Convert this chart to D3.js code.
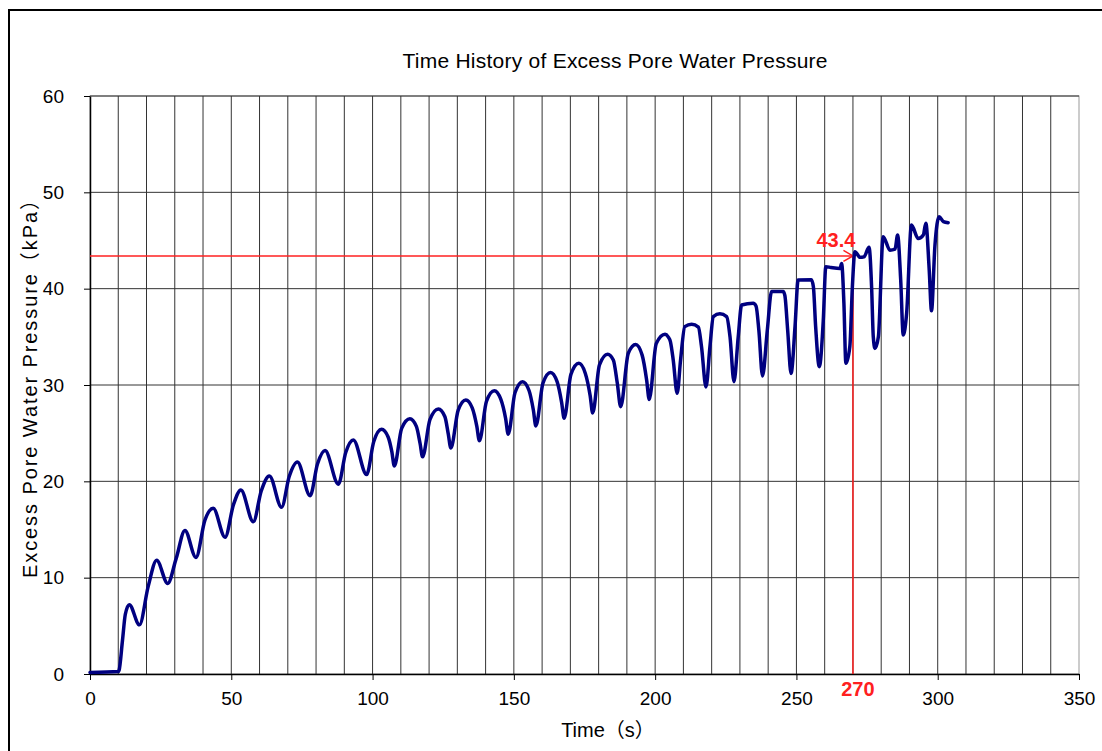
<!DOCTYPE html>
<html>
<head>
<meta charset="utf-8">
<script src="https://cdn.jsdelivr.net/npm/d3@7"></script>
<style>
  body { margin: 0; background: #fff; }
  svg text { font-family: "Liberation Sans", Arial, "Noto Sans CJK JP", sans-serif; }
</style>
</head>
<body>
<div id="chart"></div>
<script>
// time (s)
const timeS = [
    0, 10, 10.3, 11.5, 12.5, 13.9, 17.5, 20.6, 23.6, 27.5, 30.5, 33.6,
    37.5, 40.7, 43.6, 47.8, 50.8, 53.4, 57.8, 60.6, 63.5, 67.8, 70.5, 73.4,
    77.9, 80.5, 83.2, 87.9, 90.5, 93.2, 97.9, 100.4, 103.2, 105.5, 106.8,
    107.7, 110.3, 113.2, 115.5, 116.8, 117.7, 120.3, 123.3, 125.6, 126.8,
    127.7, 130.3, 133.0, 135.3, 136.9, 137.8, 140.3, 143.1, 145.4, 147.1,
    148.0, 150.4, 153.1, 155.4, 156.9, 157.8, 160.3, 163.0, 165.3, 166.9,
    167.8, 170.2, 173.0, 175.3, 177.0, 177.9, 180.3, 183.2, 185.2, 186.6,
    187.8, 190.5, 193.1, 195.4, 197.0, 197.9, 200.4, 203.5, 204.6, 205.4,
    206.4, 207.8, 209.0, 210.5, 212.9, 215.3, 216.4, 218.0, 219.4, 220.6,
    222.9, 225.3, 226.5, 227.9, 229.4, 230.6, 234.7, 235.7, 236.7, 238.0,
    239.7, 241.2, 245.3, 245.9, 246.9, 248.1, 249.5, 250.6, 255.3, 256.0,
    256.8, 258.1, 259.5, 260.4, 262.2, 265.4, 266.0, 266.8, 267.5, 268.9,
    269.8, 270.7, 272.5, 273.9, 275.7, 276.6, 277.2, 277.8, 279.0, 280.7,
    283.1, 284.9, 285.8, 286.9, 287.8, 289.0, 290.7, 293.1, 294.9, 295.8,
    297.0, 297.8, 299.0, 300.5, 302.0, 303.7
];
// excess pore water pressure (kPa)
const pressureKPa = [
    0.15, 0.25, 0.4, 3.5, 6.2, 7.2, 5.1, 9.1, 11.8, 9.4, 12.0, 14.9,
    12.1, 16.0, 17.2, 14.2, 17.6, 19.1, 15.8, 19.0, 20.55, 17.3, 20.5, 22.0,
    18.5, 21.8, 23.2, 19.7, 23.0, 24.3, 20.7, 24.1, 25.4, 24.6, 23.1,
    21.6, 25.5, 26.5, 25.7, 23.95, 22.55, 26.4, 27.5, 26.7, 24.9,
    23.45, 27.4, 28.45, 27.6, 25.7, 24.2, 28.3, 29.4, 28.5, 26.5,
    24.9, 29.2, 30.35, 29.4, 27.4, 25.75, 30.2, 31.3, 30.35, 28.2,
    26.55, 31.1, 32.25, 31.2, 28.9, 27.1, 32.1, 33.2, 32.6, 30.2,
    27.75, 33.3, 34.2, 33.1, 30.5, 28.5, 34.3, 35.26, 35.0, 34.5,
    32.6, 29.14, 32.6, 36.06, 36.3, 36.0, 34.0, 29.8, 34.0, 37.1,
    37.4, 37.1, 35.0, 30.35, 35.0, 38.3, 38.48, 38.2, 35.7, 30.94,
    35.7, 39.7, 39.7, 39.3, 35.7, 31.2, 36.05, 40.9, 40.93, 40.2,
    36.05, 31.9, 36.7, 42.28, 42.2, 42.1, 42.6, 38.5, 32.25, 34.0,
    40.2, 43.84, 43.25, 43.3, 44.3, 40.2, 35.0, 33.8, 35.0, 45.4,
    44.0, 44.1, 45.57, 40.9, 35.19, 37.45, 46.6, 45.2, 45.57, 46.78,
    41.9, 37.7, 44.4, 47.47, 46.96, 46.85
];

const xTicks = [0, 50, 100, 150, 200, 250, 300, 350];
const xGrid = d3.range(0, 351, 10);
const yTicks = [0, 10, 20, 30, 40, 50, 60];

// marked reading
const markTime = 270;
const markValue = 43.4;

const width = 1102, height = 751;
const svg = d3.select("#chart").append("svg")
    .attr("width", width)
    .attr("height", height);

// outer frame of the sheet
svg.append("rect")
    .attr("x", 9).attr("y", 10)
    .attr("width", 1200).attr("height", 800)
    .attr("fill", "none")
    .attr("stroke", "#000")
    .attr("stroke-width", 2);

const x = d3.scaleLinear().domain([0, 350]).range([90, 1079]);
const y = d3.scaleLinear().domain([0, 60]).range([674, 96]);

// plot border
svg.append("rect")
    .attr("x", x(0)).attr("y", y(60))
    .attr("width", x(350) - x(0)).attr("height", y(0) - y(60))
    .attr("fill", "none")
    .attr("stroke", "#999")
    .attr("stroke-width", 1);

// grid
svg.append("g").selectAll("line")
    .data(xGrid.filter(d => d > 0 && d < 350))
    .enter().append("line")
    .attr("x1", d => x(d)).attr("x2", d => x(d))
    .attr("y1", y(0)).attr("y2", y(60))
    .attr("stroke", "#333").attr("stroke-width", 1);

svg.append("g").selectAll("line")
    .data(yTicks.filter(d => d > 0))
    .enter().append("line")
    .attr("x1", x(0)).attr("x2", x(350))
    .attr("y1", d => y(d)).attr("y2", d => y(d))
    .attr("stroke", "#333").attr("stroke-width", 1);

// axes
const xAxis = svg.append("g")
    .attr("transform", "translate(0," + y(0) + ")")
    .call(d3.axisBottom(x).tickValues(xTicks).tickSize(6).tickPadding(12).tickSizeOuter(0));
const yAxis = svg.append("g")
    .attr("transform", "translate(" + x(0) + ",0)")
    .call(d3.axisLeft(y).tickValues(yTicks).tickSize(6).tickPadding(20).tickSizeOuter(0));

[xAxis, yAxis].forEach(g => {
    g.select(".domain").attr("stroke", "#000").attr("stroke-width", 1.5);
    g.selectAll(".tick line").attr("stroke", "#000");
    g.selectAll(".tick text")
        .style("font-family", '"Liberation Sans", Arial, sans-serif')
        .style("font-size", "19px")
        .attr("fill", "#000");
});

// red marker lines
const red = "#ff2020";
svg.append("line")
    .attr("x1", x(0)).attr("x2", x(markTime))
    .attr("y1", y(markValue)).attr("y2", y(markValue))
    .attr("stroke", red).attr("stroke-width", 1.5);
svg.append("line")
    .attr("x1", x(markTime)).attr("x2", x(markTime))
    .attr("y1", y(markValue)).attr("y2", y(0))
    .attr("stroke", red).attr("stroke-width", 1.5);
// arrow head
svg.append("path")
    .attr("d", "M" + (x(markTime) - 9.5) + "," + (y(markValue) - 5.5) +
        "L" + x(markTime) + "," + y(markValue) +
        "L" + (x(markTime) - 9.5) + "," + (y(markValue) + 5.5))
    .attr("fill", "none")
    .attr("stroke", red).attr("stroke-width", 1.5);

// the series
const line = d3.line()
    .x((d, i) => x(timeS[i]))
    .y(d => y(d))
    .curve(d3.curveMonotoneX);

svg.append("path")
    .datum(pressureKPa)
    .attr("d", line)
    .attr("fill", "none")
    .attr("stroke", "#000080")
    .attr("stroke-width", 3.5)
    .attr("stroke-linejoin", "round")
    .attr("stroke-linecap", "round");

// marker labels
svg.append("text")
    .text(markValue.toFixed(1))
    .attr("x", x(markTime) - 17).attr("y", 247)
    .attr("text-anchor", "middle")
    .style("font-weight", "bold")
    .style("font-size", "20px")
    .attr("fill", red);
svg.append("text")
    .text(markTime)
    .attr("x", x(markTime) + 5).attr("y", 696)
    .attr("text-anchor", "middle")
    .style("font-weight", "bold")
    .style("font-size", "20px")
    .attr("fill", red);

// titles
svg.append("text")
    .text("Time History of Excess Pore Water Pressure")
    .attr("x", 615).attr("y", 68)
    .attr("text-anchor", "middle")
    .attr("textLength", 425)
    .style("font-size", "21px")
    .attr("fill", "#000");

svg.append("text")
    .text("Time（s）")
    .attr("x", 608).attr("y", 737)
    .attr("text-anchor", "middle")
    .style("font-size", "20px")
    .attr("fill", "#000");

svg.append("text")
    .text("Excess Pore Water Pressure（kPa）")
    .attr("transform", "translate(37," + 384 + ") rotate(-90)")
    .attr("text-anchor", "middle")
    .attr("textLength", 388)
    .style("font-size", "20px")
    .attr("fill", "#000");
</script>
</body>
</html>
